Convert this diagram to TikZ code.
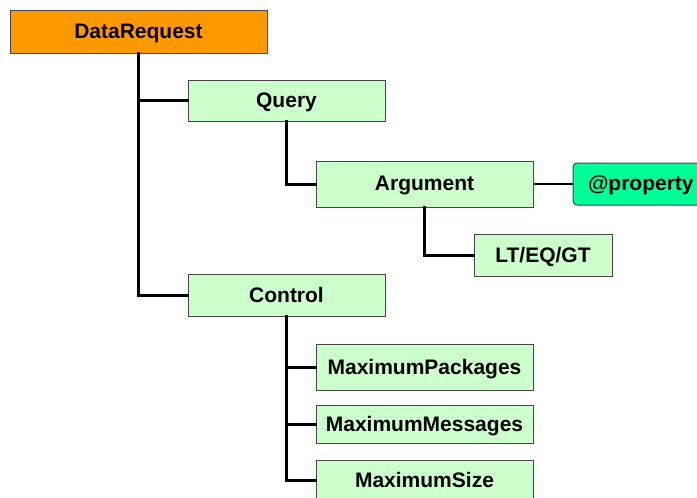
\documentclass[tikz,border=0pt]{standalone}
\usepackage{fontspec}
\setmainfont{Liberation Sans}
\definecolor{rootfill}{RGB}{255,153,0}
\definecolor{itemfill}{RGB}{204,255,204}
\definecolor{attrfill}{RGB}{0,255,153}
\definecolor{edgegray}{RGB}{70,70,70}
\begin{document}
\begin{tikzpicture}[x=1pt,y=-1pt,
  box/.style={draw=edgegray,line width=1pt,fill=itemfill,
    font=\fontsize{21}{24}\selectfont\bfseries,inner sep=0pt,text depth=1pt},
  rootbox/.style={box,fill=rootfill},
  attrbox/.style={box,fill=attrfill,rounded corners=4pt},
  link/.style={line width=3pt,line cap=rect}]
\useasboundingbox (0,0) rectangle (697,498);
\clip (0,0) rectangle (697,498);
% where the vertical tree line leaves the root
\coordinate (rootdown) at (138,53);
% boxes
\node[rootbox,minimum width=257pt,minimum height=43pt] (datareq) at (138.5,31.5) {DataRequest};
\node[box,minimum width=197pt,minimum height=41pt] (query) at (286.5,100.5) {Query};
\node[box,minimum width=217pt,minimum height=46pt] (argument) at (424.5,184) {Argument};
\node[attrbox,minimum width=140pt,minimum height=42pt,text width=110pt,align=left] (property) at (643,184) {@property};
\node[box,minimum width=138pt,minimum height=42pt] (ltgt) at (543,255) {LT/EQ/GT};
\node[box,minimum width=197pt,minimum height=42pt] (control) at (286.5,295) {Control};
\node[box,minimum width=217pt,minimum height=46pt] (maxpack) at (424.5,367) {MaximumPackages};
\node[box,minimum width=217pt,minimum height=38pt] (maxmsg) at (424.5,424) {MaximumMessages};
\node[box,minimum width=217pt,minimum height=40pt] (maxsize) at (424.5,480) {MaximumSize};
% connectors
\draw[link] (datareq.south -| rootdown) |- (control.west);
\draw[link] (rootdown |- query.west) -- (query.west);
\draw[link] (query.south) |- (argument.west);
\draw[link] (argument.south) |- (ltgt.west);
\draw[link] (control.south) |- (maxsize.west);
\draw[link] (control.south |- maxpack.west) -- (maxpack.west);
\draw[link] (control.south |- maxmsg.west) -- (maxmsg.west);
\draw[line width=1.5pt] (argument.east) -- (property.west);
\end{tikzpicture}
\end{document}
